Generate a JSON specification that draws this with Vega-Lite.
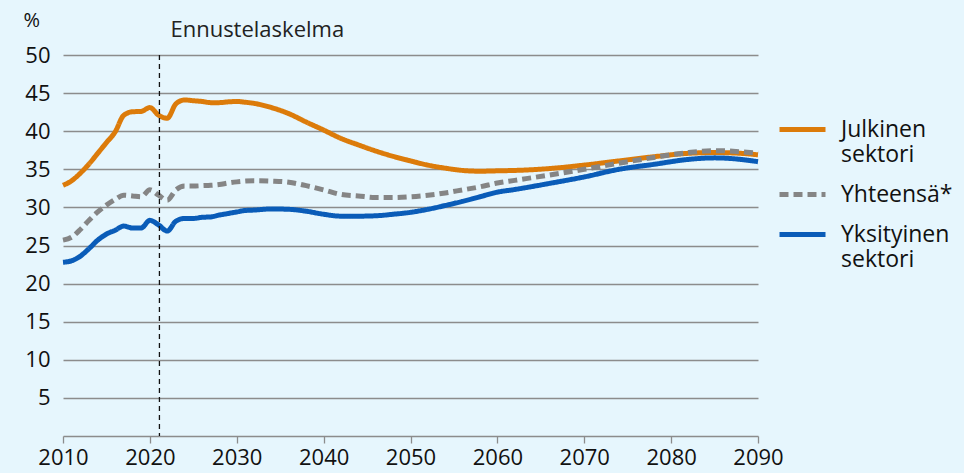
{
  "$schema": "https://vega.github.io/schema/vega-lite/v6.json",
  "width": 695,
  "height": 381,
  "autosize": {"type": "none"},
  "padding": {"left": 63, "top": 55, "right": 206, "bottom": 37},
  "background": "#e6f6fd",
  "config": {
    "view": {"stroke": null},
    "font": "Open Sans",
    "axis": {"labelFont": "Open Sans", "titleFont": "Open Sans"},
    "legend": {"labelFont": "Open Sans"}
  },
  "layer": [
    {
      "data": {"values": [
        {"year": 2010, "series": "Julkinen sektori", "value": 32.9},
        {"year": 2011, "series": "Julkinen sektori", "value": 33.5},
        {"year": 2012, "series": "Julkinen sektori", "value": 34.5},
        {"year": 2013, "series": "Julkinen sektori", "value": 35.7},
        {"year": 2014, "series": "Julkinen sektori", "value": 37.1},
        {"year": 2015, "series": "Julkinen sektori", "value": 38.5},
        {"year": 2016, "series": "Julkinen sektori", "value": 39.9},
        {"year": 2017, "series": "Julkinen sektori", "value": 42.1},
        {"year": 2018, "series": "Julkinen sektori", "value": 42.55},
        {"year": 2019, "series": "Julkinen sektori", "value": 42.6},
        {"year": 2020, "series": "Julkinen sektori", "value": 43.1},
        {"year": 2021, "series": "Julkinen sektori", "value": 42.1},
        {"year": 2022, "series": "Julkinen sektori", "value": 41.7},
        {"year": 2023, "series": "Julkinen sektori", "value": 43.6},
        {"year": 2024, "series": "Julkinen sektori", "value": 44.1},
        {"year": 2025, "series": "Julkinen sektori", "value": 44.0},
        {"year": 2026, "series": "Julkinen sektori", "value": 43.9},
        {"year": 2027, "series": "Julkinen sektori", "value": 43.75},
        {"year": 2028, "series": "Julkinen sektori", "value": 43.75},
        {"year": 2029, "series": "Julkinen sektori", "value": 43.85},
        {"year": 2030, "series": "Julkinen sektori", "value": 43.9},
        {"year": 2031, "series": "Julkinen sektori", "value": 43.8},
        {"year": 2032, "series": "Julkinen sektori", "value": 43.65},
        {"year": 2034, "series": "Julkinen sektori", "value": 43.1},
        {"year": 2036, "series": "Julkinen sektori", "value": 42.3},
        {"year": 2038, "series": "Julkinen sektori", "value": 41.2},
        {"year": 2040, "series": "Julkinen sektori", "value": 40.15},
        {"year": 2042, "series": "Julkinen sektori", "value": 39.05},
        {"year": 2044, "series": "Julkinen sektori", "value": 38.2},
        {"year": 2046, "series": "Julkinen sektori", "value": 37.4},
        {"year": 2048, "series": "Julkinen sektori", "value": 36.7},
        {"year": 2050, "series": "Julkinen sektori", "value": 36.1},
        {"year": 2052, "series": "Julkinen sektori", "value": 35.55},
        {"year": 2054, "series": "Julkinen sektori", "value": 35.15},
        {"year": 2056, "series": "Julkinen sektori", "value": 34.85},
        {"year": 2058, "series": "Julkinen sektori", "value": 34.75},
        {"year": 2060, "series": "Julkinen sektori", "value": 34.8},
        {"year": 2062, "series": "Julkinen sektori", "value": 34.85},
        {"year": 2066, "series": "Julkinen sektori", "value": 35.1},
        {"year": 2070, "series": "Julkinen sektori", "value": 35.55},
        {"year": 2074, "series": "Julkinen sektori", "value": 36.1},
        {"year": 2078, "series": "Julkinen sektori", "value": 36.65},
        {"year": 2082, "series": "Julkinen sektori", "value": 37.1},
        {"year": 2085, "series": "Julkinen sektori", "value": 37.2},
        {"year": 2088, "series": "Julkinen sektori", "value": 37.1},
        {"year": 2090, "series": "Julkinen sektori", "value": 36.9},
        {"year": 2010, "series": "Yhteensä*", "value": 25.7},
        {"year": 2011, "series": "Yhteensä*", "value": 26.1},
        {"year": 2012, "series": "Yhteensä*", "value": 27.1},
        {"year": 2013, "series": "Yhteensä*", "value": 28.3},
        {"year": 2014, "series": "Yhteensä*", "value": 29.4},
        {"year": 2015, "series": "Yhteensä*", "value": 30.3},
        {"year": 2016, "series": "Yhteensä*", "value": 31.05},
        {"year": 2017, "series": "Yhteensä*", "value": 31.6},
        {"year": 2018, "series": "Yhteensä*", "value": 31.5},
        {"year": 2019, "series": "Yhteensä*", "value": 31.4},
        {"year": 2020, "series": "Yhteensä*", "value": 32.3},
        {"year": 2021, "series": "Yhteensä*", "value": 31.6},
        {"year": 2022, "series": "Yhteensä*", "value": 30.95},
        {"year": 2023, "series": "Yhteensä*", "value": 32.3},
        {"year": 2024, "series": "Yhteensä*", "value": 32.8},
        {"year": 2025, "series": "Yhteensä*", "value": 32.8},
        {"year": 2026, "series": "Yhteensä*", "value": 32.85},
        {"year": 2027, "series": "Yhteensä*", "value": 32.9},
        {"year": 2028, "series": "Yhteensä*", "value": 33.0},
        {"year": 2029, "series": "Yhteensä*", "value": 33.2},
        {"year": 2030, "series": "Yhteensä*", "value": 33.35},
        {"year": 2031, "series": "Yhteensä*", "value": 33.45},
        {"year": 2032, "series": "Yhteensä*", "value": 33.5},
        {"year": 2034, "series": "Yhteensä*", "value": 33.45},
        {"year": 2036, "series": "Yhteensä*", "value": 33.3},
        {"year": 2038, "series": "Yhteensä*", "value": 32.85},
        {"year": 2040, "series": "Yhteensä*", "value": 32.3},
        {"year": 2042, "series": "Yhteensä*", "value": 31.7},
        {"year": 2044, "series": "Yhteensä*", "value": 31.5},
        {"year": 2046, "series": "Yhteensä*", "value": 31.3},
        {"year": 2048, "series": "Yhteensä*", "value": 31.3},
        {"year": 2050, "series": "Yhteensä*", "value": 31.4},
        {"year": 2052, "series": "Yhteensä*", "value": 31.6},
        {"year": 2054, "series": "Yhteensä*", "value": 31.9},
        {"year": 2056, "series": "Yhteensä*", "value": 32.3},
        {"year": 2058, "series": "Yhteensä*", "value": 32.7},
        {"year": 2060, "series": "Yhteensä*", "value": 33.2},
        {"year": 2062, "series": "Yhteensä*", "value": 33.55},
        {"year": 2066, "series": "Yhteensä*", "value": 34.25},
        {"year": 2070, "series": "Yhteensä*", "value": 35.0},
        {"year": 2074, "series": "Yhteensä*", "value": 35.8},
        {"year": 2078, "series": "Yhteensä*", "value": 36.55},
        {"year": 2082, "series": "Yhteensä*", "value": 37.2},
        {"year": 2085, "series": "Yhteensä*", "value": 37.45},
        {"year": 2088, "series": "Yhteensä*", "value": 37.3},
        {"year": 2090, "series": "Yhteensä*", "value": 37.1},
        {"year": 2010, "series": "Yksityinen sektori", "value": 22.8},
        {"year": 2011, "series": "Yksityinen sektori", "value": 23.0},
        {"year": 2012, "series": "Yksityinen sektori", "value": 23.6},
        {"year": 2013, "series": "Yksityinen sektori", "value": 24.6},
        {"year": 2014, "series": "Yksityinen sektori", "value": 25.7},
        {"year": 2015, "series": "Yksityinen sektori", "value": 26.5},
        {"year": 2016, "series": "Yksityinen sektori", "value": 27.0},
        {"year": 2017, "series": "Yksityinen sektori", "value": 27.55},
        {"year": 2018, "series": "Yksityinen sektori", "value": 27.3},
        {"year": 2019, "series": "Yksityinen sektori", "value": 27.3},
        {"year": 2020, "series": "Yksityinen sektori", "value": 28.3},
        {"year": 2021, "series": "Yksityinen sektori", "value": 27.7},
        {"year": 2022, "series": "Yksityinen sektori", "value": 26.9},
        {"year": 2023, "series": "Yksityinen sektori", "value": 28.2},
        {"year": 2024, "series": "Yksityinen sektori", "value": 28.55},
        {"year": 2025, "series": "Yksityinen sektori", "value": 28.55},
        {"year": 2026, "series": "Yksityinen sektori", "value": 28.7},
        {"year": 2027, "series": "Yksityinen sektori", "value": 28.75},
        {"year": 2028, "series": "Yksityinen sektori", "value": 29.0},
        {"year": 2029, "series": "Yksityinen sektori", "value": 29.2},
        {"year": 2030, "series": "Yksityinen sektori", "value": 29.4},
        {"year": 2031, "series": "Yksityinen sektori", "value": 29.6},
        {"year": 2032, "series": "Yksityinen sektori", "value": 29.65},
        {"year": 2034, "series": "Yksityinen sektori", "value": 29.8},
        {"year": 2036, "series": "Yksityinen sektori", "value": 29.75},
        {"year": 2038, "series": "Yksityinen sektori", "value": 29.5},
        {"year": 2040, "series": "Yksityinen sektori", "value": 29.1},
        {"year": 2042, "series": "Yksityinen sektori", "value": 28.85},
        {"year": 2044, "series": "Yksityinen sektori", "value": 28.85},
        {"year": 2046, "series": "Yksityinen sektori", "value": 28.9},
        {"year": 2048, "series": "Yksityinen sektori", "value": 29.1},
        {"year": 2050, "series": "Yksityinen sektori", "value": 29.35},
        {"year": 2052, "series": "Yksityinen sektori", "value": 29.75},
        {"year": 2054, "series": "Yksityinen sektori", "value": 30.25},
        {"year": 2056, "series": "Yksityinen sektori", "value": 30.8},
        {"year": 2058, "series": "Yksityinen sektori", "value": 31.4},
        {"year": 2060, "series": "Yksityinen sektori", "value": 32.0},
        {"year": 2062, "series": "Yksityinen sektori", "value": 32.35},
        {"year": 2066, "series": "Yksityinen sektori", "value": 33.15},
        {"year": 2070, "series": "Yksityinen sektori", "value": 34.0},
        {"year": 2074, "series": "Yksityinen sektori", "value": 35.0},
        {"year": 2078, "series": "Yksityinen sektori", "value": 35.65},
        {"year": 2082, "series": "Yksityinen sektori", "value": 36.3},
        {"year": 2085, "series": "Yksityinen sektori", "value": 36.5},
        {"year": 2088, "series": "Yksityinen sektori", "value": 36.3},
        {"year": 2090, "series": "Yksityinen sektori", "value": 36.0}
      ]},
      "mark": {"type": "line", "strokeWidth": 5, "interpolate": "monotone", "strokeCap": "butt"},
      "encoding": {
        "x": {
          "field": "year", "type": "quantitative",
          "scale": {"domain": [2010, 2090], "nice": false, "zero": false},
          "axis": {
            "values": [2010, 2020, 2030, 2040, 2050, 2060, 2070, 2080, 2090],
            "format": "d", "title": null, "grid": false,
            "domainColor": "#8c8c8c", "domainWidth": 1.3,
            "tickColor": "#8c8c8c", "tickWidth": 1.3, "tickSize": 7,
            "labelFontSize": 22, "labelColor": "#111111", "labelPadding": 4,
            "labelFlush": false
          }
        },
        "y": {
          "field": "value", "type": "quantitative",
          "scale": {"domain": [0, 50], "nice": false},
          "axis": {
            "values": [5, 10, 15, 20, 25, 30, 35, 40, 45, 50],
            "title": "%", "titleAngle": 0, "titleAlign": "left", "titleBaseline": "middle",
            "titleX": -40, "titleY": -35, "titleFontSize": 20, "titleFontWeight": "normal", "titleColor": "#111111",
            "domain": false, "ticks": false,
            "gridColor": "#8c8c8c", "gridWidth": 1.3,
            "labelFontSize": 22, "labelColor": "#111111", "labelPadding": 13
          }
        },
        "color": {
          "field": "series", "type": "nominal",
          "scale": {
            "domain": ["Julkinen sektori", "Yhteensä*", "Yksityinen sektori"],
            "range": ["#dc7b0a", "#858585", "#0a5cb8"]
          },
          "legend": {
            "title": null, "orient": "none", "legendX": 714, "legendY": 49,
            "symbolType": "stroke", "symbolSize": 2116, "symbolStrokeWidth": 5,
            "labelFontSize": 23, "labelColor": "#111111", "labelOffset": 13,
            "labelLimit": 0, "rowPadding": 2, "padding": 0,
            "labelExpr": "datum.label == 'Yhteensä*' ? datum.label : split(datum.label, ' ')"
          }
        },
        "strokeDash": {
          "field": "series", "type": "nominal",
          "scale": {
            "domain": ["Julkinen sektori", "Yhteensä*", "Yksityinen sektori"],
            "range": [[1, 0], [9, 5], [1, 0]]
          },
          "legend": {
            "title": null, "orient": "none", "legendX": 714, "legendY": 49,
            "symbolType": "stroke", "symbolSize": 2116, "symbolStrokeWidth": 5,
            "labelFontSize": 23, "labelColor": "#111111", "labelOffset": 13,
            "labelLimit": 0, "rowPadding": 2, "padding": 0,
            "labelExpr": "datum.label == 'Yhteensä*' ? datum.label : split(datum.label, ' ')"
          }
        }
      }
    },
    {
      "data": {"values": [{"year": 2021.1, "label": "Ennustelaskelma"}]},
      "mark": {"type": "rule", "color": "#111111", "strokeWidth": 1.3, "strokeDash": [5, 4]},
      "encoding": {"x": {"field": "year", "type": "quantitative"}}
    },
    {
      "data": {"values": [{"year": 2021.1, "label": "Ennustelaskelma"}]},
      "mark": {"type": "text", "align": "left", "baseline": "middle", "dx": 11, "fontSize": 22, "color": "#222222", "clip": false},
      "encoding": {
        "x": {"field": "year", "type": "quantitative"},
        "y": {"datum": 53.3},
        "text": {"field": "label"}
      }
    }
  ]
}
